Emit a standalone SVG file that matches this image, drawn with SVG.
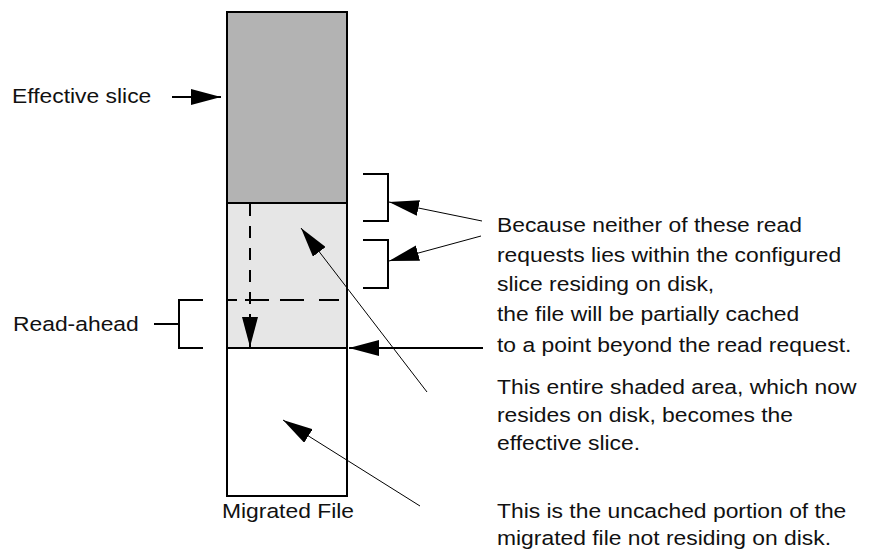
<svg xmlns="http://www.w3.org/2000/svg" width="873" height="551" viewBox="0 0 873 551">
<style>
text{font-family:"Liberation Sans",Arial,sans-serif;font-size:20.5px;fill:#111}
.thick{stroke:#000;stroke-width:2;fill:none}
.thin{stroke:#000;stroke-width:1;fill:none}
.dash{stroke:#000;stroke-width:2;fill:none}
</style>
<defs>
<marker id="ah" markerUnits="userSpaceOnUse" markerWidth="30" markerHeight="16" refX="30" refY="8" orient="auto" viewBox="0 0 30 16">
<path d="M0,0 L30,8 L0,16 z" fill="#000"/>
</marker>
</defs>
<rect width="873" height="551" fill="#fff"/>
<g id="migrated-file">
<rect x="227" y="12" width="120" height="191" fill="#b3b3b3"/>
<rect x="227" y="203" width="120" height="145" fill="#e6e6e6"/>
<rect x="227" y="348" width="120" height="148" fill="#fff"/>
<line class="thick" x1="227" y1="203" x2="347" y2="203"/>
<line class="thick" x1="227" y1="348" x2="347" y2="348"/>
<rect class="thick" x="227" y="12" width="120" height="484"/>
<line class="dash" x1="227" y1="300" x2="347" y2="300" stroke-dasharray="10 8 24 11 24 15 20"/>
<g transform="matrix(1.115,0,0,1,288,0)"><text x="0" y="518" text-anchor="middle">Migrated File</text></g>
</g>
<g id="effective-slice">
<g transform="matrix(1.115,0,0,1,12,0)"><text x="0" y="103">Effective slice</text></g>
</g>
<g id="read-ahead">
<g transform="matrix(1.115,0,0,1,13,0)"><text x="0" y="331">Read-ahead</text></g>
<path class="thick" d="M154,324 H179 M203,300 H179 V348 H203"/>
</g>
<g id="read-requests">
<path class="thick" d="M363,174 H388 V221 H363"/>
<path class="thick" d="M363,240 H388 V288 H363"/>
</g>
<g id="note-read" transform="matrix(1.115,0,0,1,497,0)">
<text x="0" y="232">Because neither of these read</text>
<text x="0" y="262">requests lies within the configured</text>
<text x="0" y="291">slice residing on disk,</text>
<text x="0" y="321">the file will be partially cached</text>
<text x="0" y="352">to a point beyond the read request.</text>
</g>
<g id="note-shaded" transform="matrix(1.115,0,0,1,497,0)">
<text x="0" y="394">This entire shaded area, which now</text>
<text x="0" y="422">resides on disk, becomes the</text>
<text x="0" y="450">effective slice.</text>
</g>
<g id="note-uncached" transform="matrix(1.115,0,0,1,497,0)">
<text x="0" y="518">This is the uncached portion of the</text>
<text x="0" y="545">migrated file not residing on disk.</text>
</g>
<g id="connectors">
<line class="thick" x1="172" y1="97" x2="221" y2="97" marker-end="url(#ah)"/>
<line class="dash" x1="250" y1="204" x2="250" y2="347" stroke-dasharray="12 10" marker-end="url(#ah)"/>
<line class="thin" x1="482" y1="221" x2="389" y2="202" marker-end="url(#ah)"/>
<line class="thin" x1="481" y1="236" x2="389" y2="261" marker-end="url(#ah)"/>
<line class="thick" x1="483" y1="348" x2="349" y2="348" marker-end="url(#ah)"/>
<line class="thin" x1="427" y1="392" x2="301" y2="228" marker-end="url(#ah)"/>
<line class="thin" x1="420" y1="506" x2="283" y2="420" marker-end="url(#ah)"/>
</g>
</svg>
